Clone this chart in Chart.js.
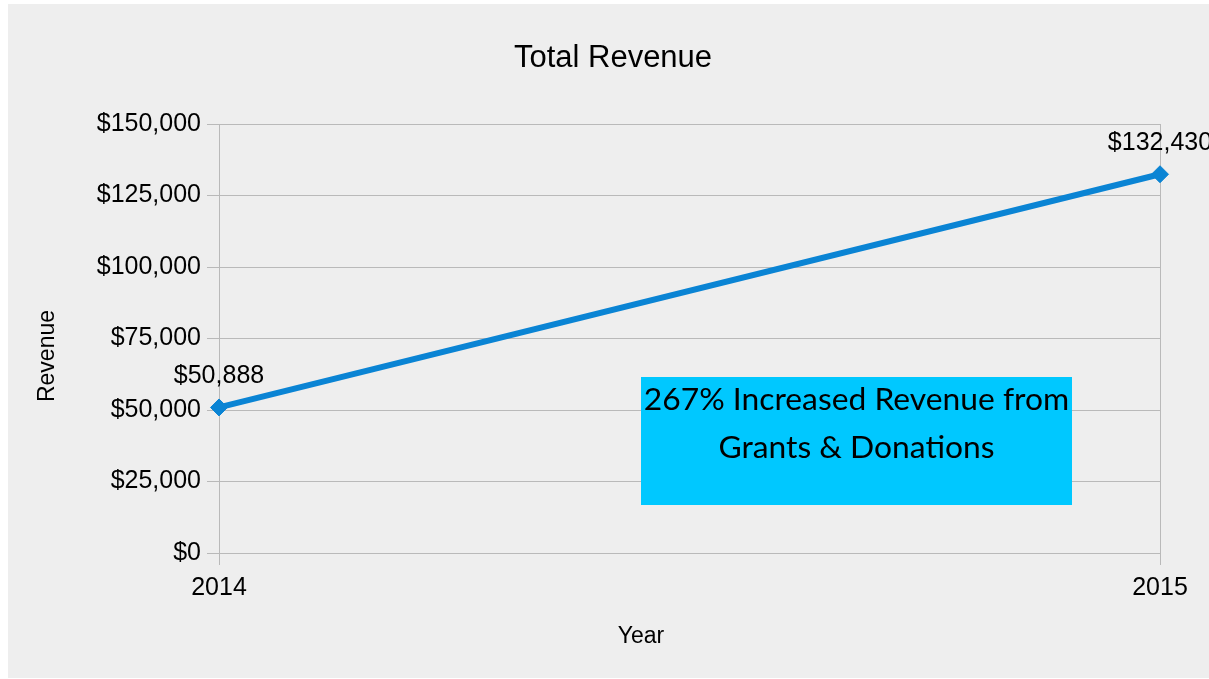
<!DOCTYPE html>
<html>
<head>
<meta charset="utf-8">
<script src="https://cdn.jsdelivr.net/npm/chart.js@4/dist/chart.umd.min.js"></script>
<style>
  html, body { margin: 0; padding: 0; background: #ffffff; }
  #wrap { width: 1209px; height: 679px; }
</style>
</head>
<body>
<div id="wrap"><canvas id="chart" width="1209" height="679"></canvas></div>
<script>
// chart data
const years = ['2014', '2015'];
const revenue = [50888, 132430];
const yTicks = [0, 25000, 50000, 75000, 100000, 125000, 150000];
const noteLines = ['267% Increased Revenue from', 'Grants & Donations'];

const lineBlue = '#0a84d4';
const gridGrey = '#b9b9b9';
const sansFont = '"Liberation Sans", Arial, sans-serif';

const money = v => '$' + v.toLocaleString('en-US');

// grey panel, titles, point labels and the cyan note
const decorations = {
  id: 'decorations',
  beforeDraw(chart) {
    const ctx = chart.ctx;
    ctx.save();
    ctx.fillStyle = '#eeeeee';
    ctx.fillRect(8, 4, chart.width - 8, chart.height - 5);
    ctx.restore();
  },
  afterDatasetsDraw(chart) {
    const ctx = chart.ctx;
    ctx.save();

    ctx.fillStyle = '#000000';
    ctx.textAlign = 'center';
    ctx.textBaseline = 'middle';
    ctx.font = '31px ' + sansFont;
    ctx.fillText('Total Revenue', 613, 58);

    // axis titles
    ctx.font = '23px ' + sansFont;
    ctx.fillText('Year', 641, 637);
    ctx.save();
    ctx.translate(48, 356);
    ctx.rotate(-Math.PI / 2);
    ctx.fillText('Revenue', 0, 0);
    ctx.restore();

    // value labels above each point
    ctx.font = '25px ' + sansFont;
    const meta = chart.getDatasetMeta(0);
    meta.data.forEach((pt, i) => {
      ctx.fillText(money(revenue[i]), pt.x, pt.y - 31);
    });

    // note box
    const box = { x: 641, y: 377, w: 431, h: 128 };
    ctx.fillStyle = '#00c8ff';
    ctx.fillRect(box.x, box.y, box.w, box.h);
    ctx.fillStyle = '#000000';
    let size = 28;
    ctx.font = size + 'px Lato, "Open Sans", sans-serif';
    const wanted = 425;
    size = size * wanted / ctx.measureText(noteLines[0]).width;
    ctx.font = size.toFixed(1) + 'px Lato, "Open Sans", sans-serif';
    ctx.fillText(noteLines[0], box.x + box.w / 2, 400);
    ctx.fillText(noteLines[1], box.x + box.w / 2, 448);

    ctx.restore();
  }
};

new Chart(document.getElementById('chart'), {
  type: 'line',
  data: {
    labels: years,
    datasets: [{
      label: 'Revenue',
      data: revenue,
      borderColor: lineBlue,
      backgroundColor: lineBlue,
      borderWidth: 6,
      pointStyle: 'rectRot',
      pointRadius: 8.5,
      pointBorderWidth: 1,
      pointBackgroundColor: lineBlue,
      pointBorderColor: lineBlue,
      tension: 0,
      clip: false
    }]
  },
  options: {
    responsive: false,
    animation: false,
    layout: { padding: { top: 124, right: 49, bottom: 0, left: 0 } },
    plugins: {
      legend: { display: false },
      title: { display: false },
      tooltip: { enabled: false }
    },
    scales: {
      x: {
        offset: false,
        afterFit: scale => { scale.height = 126; },
        grid: { color: gridGrey, tickLength: 12, tickColor: gridGrey },
        border: { color: gridGrey },
        ticks: {
          color: '#000000',
          padding: 8,
          maxRotation: 0,
          font: { family: sansFont, size: 25 }
        }
      },
      y: {
        min: 0,
        max: 150000,
        afterFit: scale => { scale.width = 219; },
        afterBuildTicks: scale => { scale.ticks = yTicks.map(v => ({ value: v })); },
        grid: { color: gridGrey, tickLength: 12, tickColor: gridGrey },
        border: { color: gridGrey },
        ticks: {
          color: '#000000',
          padding: 6,
          font: { family: sansFont, size: 25 },
          callback: v => money(v)
        }
      }
    }
  },
  plugins: [decorations]
});
</script>
</body>
</html>
